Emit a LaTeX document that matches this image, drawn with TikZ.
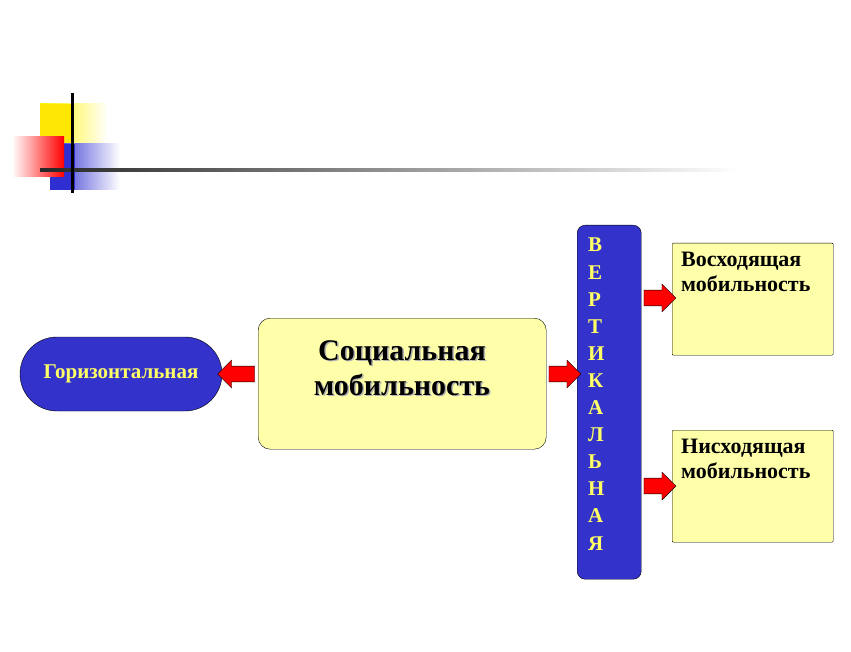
\documentclass[tikz,border=0pt]{standalone}
\usepackage{fontspec}
\setmainfont{Liberation Serif}
\usetikzlibrary{shapes.arrows}
\definecolor{bl}{HTML}{3333CC}
\definecolor{ly}{HTML}{FFFFAA}
\definecolor{tx}{HTML}{FFFF66}
\begin{document}
\begin{tikzpicture}[x=1pt,y=-1pt,
  box/.style={draw=black,fill=ly,rounded corners=1pt,anchor=north west,inner sep=0pt},
  arr/.style={single arrow,draw=black,fill=red,minimum width=28pt,single arrow head extend=4pt,inner sep=5pt,line width=0.4pt}]
\useasboundingbox (0,0) rectangle (851,652);
% decoration
\shade[left color=yellow!90!orange,right color=white] (40,104) rectangle (108,144);
\fill[yellow!90!orange] (40,104) rectangle (72,144);
\shade[left color=bl!90!blue,right color=white] (50,144) rectangle (120,190);
\fill[bl!90!blue] (50,144) rectangle (75,190);
\shade[top color=red!60,bottom color=white,left color=white,right color=red] (12,137) rectangle (64,177);
\shade[left color=black!85,right color=white] (40,168.5) rectangle (740,171.5);
\draw[line width=3pt] (72,93) -- (72,193);
% nodes
\node[draw=black,fill=bl,rounded corners=37pt,minimum width=202pt,minimum height=74pt,text=tx,font=\bfseries\fontsize{21}{24}\selectfont,inner sep=0pt] (h) at (121,374) {Горизонтальная};
\node[box,minimum width=288pt,minimum height=131pt,rounded corners=12pt] (s) at (258,318) {};
\node[font=\bfseries\fontsize{30}{35}\selectfont,align=center,text=black!30] at (403.5,369.5) {Социальная\\мобильность};
\node[font=\bfseries\fontsize{30}{35}\selectfont,align=center,text=black] at (402,368) {Социальная\\мобильность};
\node[draw=black,fill=bl,rounded corners=8pt,minimum width=64pt,minimum height=354pt,anchor=north west] (v) at (577,225) {};
\node[text=tx,font=\bfseries\fontsize{21}{27.1}\selectfont,align=left,anchor=north west,inner sep=0pt] at (588,238) {В\\Е\\Р\\Т\\И\\К\\А\\Л\\Ь\\Н\\А\\Я};
\node[box,minimum width=161pt,minimum height=112pt] (u) at (672,243) {};
\node[anchor=north west,font=\bfseries\fontsize{22}{25}\selectfont,align=left,inner sep=0pt] at (681,252) {Восходящая\\мобильность};
\node[box,minimum width=161pt,minimum height=112pt] (d) at (672,430) {};
\node[anchor=north west,font=\bfseries\fontsize{22}{25}\selectfont,align=left,inner sep=0pt] at (681,439) {Нисходящая\\мобильность};
% arrows
\node[arr,shape border rotate=180,minimum height=37pt] at (240,374) {};
\node[arr,minimum height=32pt] at (561,374) {};
\node[arr,minimum height=32pt] at (656,298) {};
\node[arr,minimum height=32pt] at (656,486) {};
\end{tikzpicture}
\end{document}
